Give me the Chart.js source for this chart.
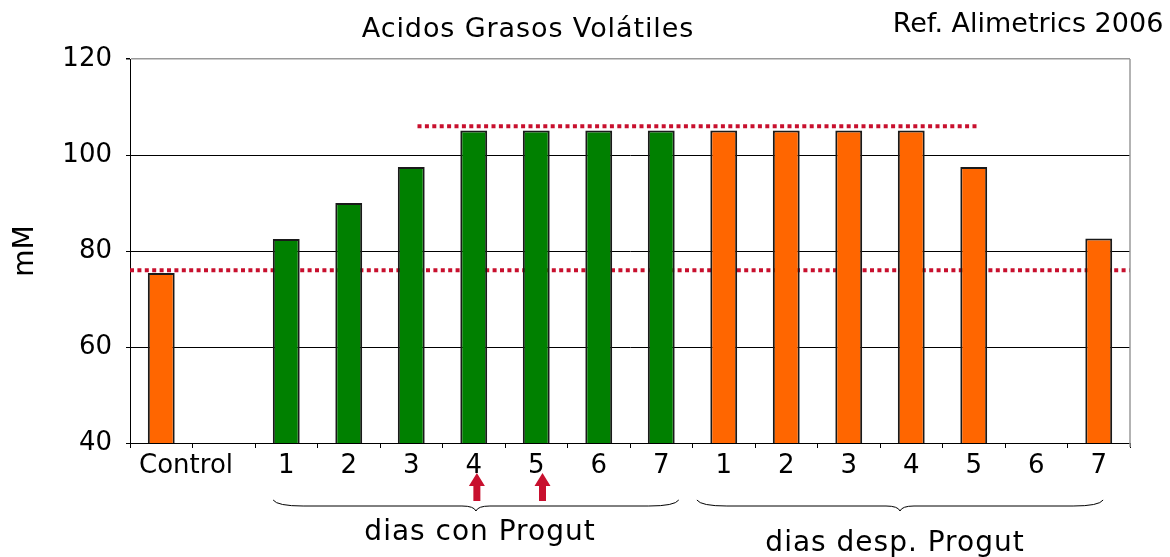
<!DOCTYPE html>
<html>
<head>
<meta charset="utf-8">
<script src="https://cdn.jsdelivr.net/npm/chart.js@4.4.1/dist/chart.umd.min.js"></script>
<style>
body { margin: 0; background: #fff; }
#wrap { position: relative; width: 1170px; height: 557px; }
</style>
</head>
<body>
<div id="wrap"><canvas id="agvChart"></canvas></div>
<script>
// data
const categories = ['      Control', '', '1', '2', '3', '4', '5', '6', '7', '1', '2', '3', '4', '5', '6', '7'];
const controlValue = [75.4];
const conProgut = [82.5, 90.0, 97.5, 105.1, 105.1, 105.1, 105.1];
const despProgut = [105.1, 105.1, 105.1, 105.1, 97.5, null, 82.6];
const yTicks = [40, 60, 80, 100, 120];
const refLevels = [76, 106];
const groupLabels = ['dias con Progut', 'dias desp. Progut'];

const ORANGE = '#ff6600';
const GREEN = '#008000';
const RED = '#c8102e';
const FONT = 'DejaVu Sans';

const values = [...controlValue, null, ...conProgut, ...despProgut];
const colors = [ORANGE, ORANGE, ...conProgut.map(() => GREEN), ...despProgut.map(() => ORANGE)];

// extras drawn on top of / behind the chart
const overlay = {
    id: 'overlay',
    beforeDatasetsDraw(chart) {
        const { ctx, chartArea: a, scales: { x, y } } = chart;
        ctx.save();
        ctx.strokeStyle = RED;
        ctx.lineWidth = 4;
        ctx.setLineDash([4, 3.4]);
        // low reference line across the whole plot
        let py = y.getPixelForValue(refLevels[0]);
        ctx.beginPath(); ctx.moveTo(a.left, py); ctx.lineTo(a.right, py); ctx.stroke();
        // high reference line over the plateau
        py = y.getPixelForValue(refLevels[1]);
        ctx.beginPath(); ctx.moveTo(x.getPixelForValue(4.1), py); ctx.lineTo(x.getPixelForValue(13.05), py); ctx.stroke();
        ctx.restore();
    },
    afterDraw(chart) {
        const { ctx, chartArea: a, scales: { x } } = chart;
        ctx.save();
        // right frame
        ctx.strokeStyle = '#9a9a9a';
        ctx.lineWidth = 1.5;
        ctx.beginPath(); ctx.moveTo(a.right, a.top); ctx.lineTo(a.right, a.bottom + 4); ctx.stroke();

        // title + reference
        ctx.fillStyle = '#000';
        ctx.textAlign = 'center';
        ctx.textBaseline = 'alphabetic';
        ctx.font = '27px "' + FONT + '"';
        ctx.letterSpacing = '0.9px';
        ctx.fillText('Acidos Grasos Volátiles', 528, 37);
        ctx.letterSpacing = '0px';
        ctx.fillText('Ref. Alimetrics 2006', 1028, 32);

        // braces
        const braces = [[1.79, 8.28, 480, 540], [8.57, 15.07, 895, 551]];
        ctx.strokeStyle = '#000';
        ctx.lineWidth = 1;
        braces.forEach(([f, t, lx, ly], i) => {
            const x1 = x.getPixelForValue(f), x2 = x.getPixelForValue(t);
            const xm = (x1 + x2) / 2;
            const top = 500, mid = 506, tip = 511;
            ctx.beginPath();
            ctx.moveTo(x1, top);
            ctx.quadraticCurveTo(x1 + 4, mid, x1 + 30, mid);
            ctx.lineTo(xm - 14, mid);
            ctx.quadraticCurveTo(xm - 2, mid, xm, tip);
            ctx.quadraticCurveTo(xm + 2, mid, xm + 14, mid);
            ctx.lineTo(x2 - 30, mid);
            ctx.quadraticCurveTo(x2 - 4, mid, x2, top);
            ctx.stroke();
            ctx.font = '28px "' + FONT + '"';
            ctx.letterSpacing = '1px';
            ctx.fillText(groupLabels[i], lx, ly);
        });
        ctx.letterSpacing = '0px';

        // red arrows under days 4 and 5
        ctx.fillStyle = RED;
        [5.05, 6.1].forEach(v => {
            const px = x.getPixelForValue(v);
            ctx.beginPath();
            ctx.moveTo(px, 473);
            ctx.lineTo(px + 8, 486);
            ctx.lineTo(px + 3.5, 486);
            ctx.lineTo(px + 3.5, 501);
            ctx.lineTo(px - 3.5, 501);
            ctx.lineTo(px - 3.5, 486);
            ctx.lineTo(px - 8, 486);
            ctx.closePath();
            ctx.fill();
        });
        ctx.restore();
    }
};

const ctx = document.getElementById('agvChart').getContext('2d');
const agvChart = new Chart(ctx, {
    type: 'bar',
    data: {
        labels: categories,
        datasets: [{
            data: values,
            backgroundColor: colors,
            borderColor: '#1a1a1a',
            borderWidth: 2,
            categoryPercentage: 1,
            barPercentage: 0.43
        }]
    },
    options: {
        responsive: true,
        maintainAspectRatio: false,
        animation: false,
        layout: { padding: { top: 59, right: 40, left: 0, bottom: 0 } },
        plugins: {
            legend: { display: false },
            tooltip: { enabled: false }
        },
        scales: {
            x: {
                afterFit: s => { s.height = 114; },
                grid: {
                    offset: true,
                    drawOnChartArea: false,
                    drawTicks: true,
                    tickLength: 5,
                    color: '#000'
                },
                border: { color: '#000', width: 1 },
                ticks: {
                    color: '#000',
                    padding: 3,
                    maxRotation: 0,
                    autoSkip: false,
                    font: { family: FONT, size: 26 }
                }
            },
            y: {
                min: yTicks[0],
                max: yTicks[yTicks.length - 1],
                afterFit: s => { s.width = 130; },
                afterBuildTicks: s => { s.ticks = yTicks.map(v => ({ value: v })); },
                grid: {
                    color: c => (c.tick && c.tick.value === 120 ? '#9a9a9a' : '#000'),
                    lineWidth: c => (c.tick && c.tick.value === 120 ? 1.5 : 1),
                    tickLength: 4,
                    tickColor: '#000'
                },
                border: { color: '#000', width: 1 },
                ticks: {
                    color: '#000',
                    padding: 14,
                    font: { family: FONT, size: 26 }
                },
                title: {
                    display: true,
                    text: 'mM',
                    color: '#000',
                    padding: { top: 9, bottom: 0 },
                    font: { family: FONT, size: 28 }
                }
            }
        }
    },
    plugins: [overlay]
});
</script>
</body>
</html>
